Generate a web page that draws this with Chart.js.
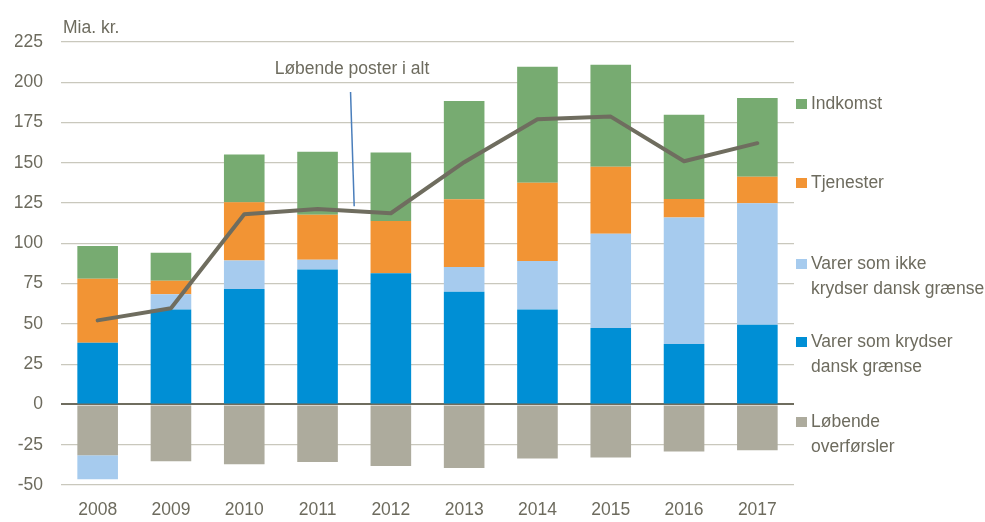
<!DOCTYPE html>
<html lang="da">
<head>
  <meta charset="UTF-8">
  <title>Løbende poster</title>
  <script src="https://cdn.jsdelivr.net/npm/chart.js"></script>
  <style>
    body { margin: 0; background: #fff; }
  </style>
</head>
<body>
  <div style="width: 985px; height: 522px;">
    <canvas id="chart" width="985" height="522"></canvas>
  </div>

  <script>
    // Data (mia. kr.)
    const years = ['2008', '2009', '2010', '2011', '2012', '2013', '2014', '2015', '2016', '2017'];
    const overfoersler = [-31.5, -35.2, -37.1, -35.7, -38.2, -39.4, -33.6, -33.0, -29.2, -28.4];
    const varerKrydser = [38.3, 59.0, 71.7, 83.7, 81.4, 70.0, 59.0, 47.4, 37.5, 49.5];
    const varerIkkeKrydser = [-14.9, 9.4, 17.6, 6.2, 0, 15.3, 30.1, 58.6, 78.5, 75.4];
    const tjenester = [39.8, 8.4, 36.2, 27.8, 32.5, 42.1, 48.6, 41.5, 11.6, 16.4];
    const indkomst = [20.3, 17.4, 29.6, 39.1, 42.5, 60.9, 71.9, 63.4, 52.2, 48.9];
    const posterIAlt = [52.2, 59.7, 118.1, 121.4, 118.7, 150.4, 177.1, 178.7, 151.0, 162.2];
    const yTicks = [-50, 225, 25]; // min, max, trin

    const textColor = '#6d6b5e';
    const font = "'Liberation Sans', Arial, sans-serif";
    const fontSize = 17.5;

    const legendItems = [
      { lines: ['Indkomst'], color: '#77ab71', y: 104 },
      { lines: ['Tjenester'], color: '#f29434', y: 183 },
      { lines: ['Varer som ikke', 'krydser dansk grænse'], color: '#a6cbee', y: 264 },
      { lines: ['Varer som krydser', 'dansk grænse'], color: '#008fd5', y: 342 },
      { lines: ['Løbende', 'overførsler'], color: '#adab9d', y: 422 }
    ];

    // Tekst, pil og forklaring tegnes efter selve diagrammet
    const extras = {
      id: 'extras',
      afterDraw(chart) {
        const ctx = chart.ctx;
        const x = chart.scales.x;
        const y = chart.scales.y;
        const area = chart.chartArea;
        ctx.save();
        ctx.fillStyle = textColor;
        ctx.font = fontSize + 'px ' + font;
        ctx.textBaseline = 'middle';

        ctx.textAlign = 'left';
        ctx.fillText('Mia. kr.', area.left + 2, 28);

        // annotation
        ctx.textAlign = 'center';
        ctx.fillText('Løbende poster i alt', x.getPixelForValue(3.47), y.getPixelForValue(208));
        ctx.strokeStyle = '#4a7ebb';
        ctx.lineWidth = 1.5;
        ctx.beginPath();
        ctx.moveTo(x.getPixelForValue(3.45), y.getPixelForValue(194));
        ctx.lineTo(x.getPixelForValue(3.5), y.getPixelForValue(123));
        ctx.stroke();

        // forklaring
        ctx.textAlign = 'left';
        legendItems.forEach(item => {
          ctx.fillStyle = item.color;
          ctx.fillRect(area.right + 2, item.y - 5, 11, 10);
          ctx.fillStyle = textColor;
          item.lines.forEach((line, i) => {
            ctx.fillText(line, area.right + 17, item.y + i * 25);
          });
        });
        ctx.restore();
      }
    };

    const barDefaults = { stack: 'bars', order: 1, barPercentage: 0.554, categoryPercentage: 1, borderWidth: 0 };

    new Chart(document.getElementById('chart').getContext('2d'), {
      type: 'bar',
      data: {
        labels: years,
        datasets: [
          { type: 'line', label: 'Løbende poster i alt', data: posterIAlt, stack: 'line', order: 0,
            borderColor: '#6f6d5f', borderWidth: 4, pointRadius: 0, tension: 0, fill: false,
            borderCapStyle: 'round', borderJoinStyle: 'round' },
          { label: 'Løbende overførsler', data: overfoersler, backgroundColor: '#adab9d', ...barDefaults },
          { label: 'Varer som krydser dansk grænse', data: varerKrydser, backgroundColor: '#008fd5', ...barDefaults },
          { label: 'Varer som ikke krydser dansk grænse', data: varerIkkeKrydser, backgroundColor: '#a6cbee', ...barDefaults },
          { label: 'Tjenester', data: tjenester, backgroundColor: '#f29434', ...barDefaults },
          { label: 'Indkomst', data: indkomst, backgroundColor: '#77ab71', ...barDefaults }
        ]
      },
      options: {
        responsive: false,
        animation: false,
        layout: { padding: { top: 42, right: 191, left: 15, bottom: 0 } },
        plugins: { legend: { display: false }, tooltip: { enabled: false } },
        scales: {
          x: {
            stacked: true,
            grid: { display: false },
            border: { display: false },
            ticks: { color: textColor, font: { family: font, size: fontSize }, padding: 7 },
            afterFit: scale => { scale.height = 37; scale.paddingLeft = 0; scale.paddingRight = 0; }
          },
          y: {
            stacked: true,
            min: yTicks[0],
            max: yTicks[1],
            border: { display: false },
            grid: {
              drawTicks: false,
              color: ctx => ctx.tick && ctx.tick.value === 0 ? '#6f6d5f' : '#c9c8bd',
              lineWidth: ctx => ctx.tick && ctx.tick.value === 0 ? 2 : 1.2
            },
            ticks: { stepSize: yTicks[2], color: textColor, font: { family: font, size: fontSize }, padding: 18 },
            afterFit: scale => { scale.width = 46; scale.paddingTop = 0; scale.paddingBottom = 0; }
          }
        }
      },
      plugins: [extras]
    });
  </script>
</body>
</html>
